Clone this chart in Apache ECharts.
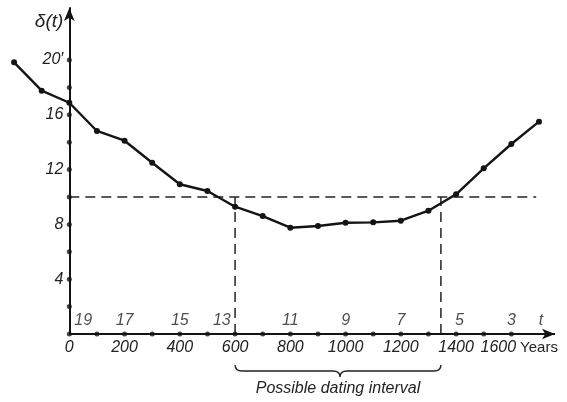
<!DOCTYPE html>
<html><head><meta charset="utf-8">
<script src="https://cdn.jsdelivr.net/npm/echarts@6/dist/echarts.min.js"></script>
<style>html,body{margin:0;padding:0;background:#fff}#c{width:567px;height:402px}</style>
</head><body><div id="c"></div>
<script>
const years = [-200,-100,0,100,200,300,400,500,600,700,800,900,1000,1100,1200,1300,1400,1500,1600,1700];
const delta = [19.83,17.76,16.88,14.82,14.11,12.50,10.93,10.44,9.29,8.61,7.76,7.88,8.12,8.15,8.27,9.0,10.2,12.09,13.87,15.5];
const threshold = 10;
const intervalStart = 600;
const intervalEnd = 1345;
const thresholdLineEnd = 1690;
const xAxisStart = -200;
const xAxisEnd = 1758;
const centuryLabels = ['19','17','15','13','11','9','7','5','3','t'];
const centuryPos = [50,200,400,552,800,1000,1200,1412,1600,1707];
const xTickDots = [0,100,200,300,400,500,600,700,800,900,1000,1100,1200,1300,1400,1500,1600];
const yTickDots = [2,4,6,8,10,12,14,16,18,20];
const xTickLabels = [0,200,400,600,800,1000,1200,1400,1600];
const yTickLabels = [4,8,12,16,20];
const yearsLabel = 'Years';
const yName = 'δ(t)';
const intervalText = 'Possible dating interval';

const F = "'Liberation Sans',sans-serif";
const INK = '#141414';
const TXT = '#222';
const GL = 14.06, GR = 12, W = 567;
const pxPerYear = (W - GL - GR) / (xAxisEnd - xAxisStart);
const chart = echarts.init(document.getElementById('c'), null, {renderer:'canvas'});
chart.setOption({
  backgroundColor:'#fff',
  animation:false,
  grid:{left:GL, right:GR, top:7.94, bottom:68, containLabel:false, outerBoundsMode:'none'},
  xAxis:{type:'value', min:xAxisStart, max:xAxisEnd, interval:100,
    axisLine:{show:false, onZero:false},
    axisTick:{show:false}, splitLine:{show:false},
    axisLabel:{margin:6, fontFamily:F, fontStyle:'italic', fontSize:16, color:TXT,
      showMaxLabel:false, showMinLabel:false,
      formatter:function(v){
        if(v===1600) return '{s|1600}';
        if(xTickLabels.indexOf(v)>=0) return String(v);
        if(v===1700) return '{y|'+yearsLabel+'}';
        return '';
      },
      rich:{
        y:{fontFamily:F, fontStyle:'normal', fontSize:15, color:TXT},
        s:{fontFamily:F, fontStyle:'italic', fontSize:16, color:TXT, padding:[0,26,0,0]}
      }}
  },
  yAxis:{type:'value', min:0, max:23.8, interval:4,
    position:'left', offset:xAxisStart * pxPerYear,
    name:yName, nameLocation:'end', nameGap:-14,
    nameTextStyle:{fontFamily:F, fontStyle:'italic', fontSize:19, color:TXT, align:'right', verticalAlign:'middle', padding:[0,6,0,0]},
    axisLine:{show:true, onZero:false, lineStyle:{color:INK,width:2}, symbol:['none','arrow'], symbolSize:[8,13]},
    axisTick:{show:false}, splitLine:{show:false},
    axisLabel:{margin:6, fontFamily:F, fontStyle:'italic', fontSize:16, color:TXT, showMaxLabel:false,
      formatter:function(v){ if(v===20) return '20′'; return yTickLabels.indexOf(v)>=0 ? String(v) : ''; }}
  },
  series:[
    {type:'line', data:[[0,threshold],[thresholdLineEnd,threshold]], symbol:'none', silent:true,
      lineStyle:{color:TXT, width:1.5, type:[10,6]}},
    {type:'line', data:[[intervalStart,0],[intervalStart,threshold]], symbol:'none', silent:true,
      lineStyle:{color:TXT, width:1.5, type:[10,6]}},
    {type:'line', data:[[intervalEnd,0],[intervalEnd,threshold]], symbol:'none', silent:true,
      lineStyle:{color:TXT, width:1.5, type:[10,6]}},
    {type:'scatter', data:xTickDots.map(function(x){return [x,0];}), symbol:'circle', symbolSize:5,
      itemStyle:{color:INK}, silent:true, z:5,
      markLine:{silent:true, symbol:['none','arrow'], symbolSize:[8,13], label:{show:false},
        lineStyle:{color:INK, width:2, type:'solid'},
        data:[[{coord:[0,0]},{coord:[xAxisEnd,0]}]]}},
    {type:'scatter', data:yTickDots.map(function(y){return [0,y];}), symbol:'circle', symbolSize:5,
      itemStyle:{color:INK}, silent:true, z:5},
    {type:'line', data:years.map(function(x,i){return [x,delta[i]];}), clip:false,
      symbol:'circle', symbolSize:6, showAllSymbol:true,
      lineStyle:{color:INK, width:2.4}, itemStyle:{color:INK}, z:6},
    {type:'scatter', data:centuryPos.map(function(x,i){return {value:[x,0.95], label:{formatter:centuryLabels[i]}};}),
      symbolSize:0, silent:true,
      label:{show:true, position:'inside', fontFamily:F, fontStyle:'italic', fontSize:16, color:TXT}},
    {type:'custom', clip:false, silent:true, data:[[intervalStart, intervalEnd]],
      renderItem:function(params, api){
        var a = api.coord([api.value(0),0]);
        var b = api.coord([api.value(1),0]);
        var y0 = a[1], x1 = a[0], x2 = b[0], m = (x1+x2)/2 + 2;
        var p = 'M'+x1+','+(y0+31)+' Q'+x1+','+(y0+37)+' '+(x1+7)+','+(y0+37)+
          ' L'+(m-7)+','+(y0+37)+' Q'+m+','+(y0+37)+' '+m+','+(y0+43)+
          ' Q'+m+','+(y0+37)+' '+(m+7)+','+(y0+37)+
          ' L'+(x2-7)+','+(y0+37)+' Q'+x2+','+(y0+37)+' '+x2+','+(y0+31);
        return {type:'group', children:[
          {type:'path', shape:{pathData:p}, style:{fill:null, stroke:TXT, lineWidth:1.4}},
          {type:'text', x:(x1+x2)/2, y:y0+55, style:{text:intervalText, fontFamily:F, fontStyle:'italic', fontSize:16, fill:TXT, align:'center', verticalAlign:'middle'}}
        ]};
      }}
  ]
});
</script></body></html>
